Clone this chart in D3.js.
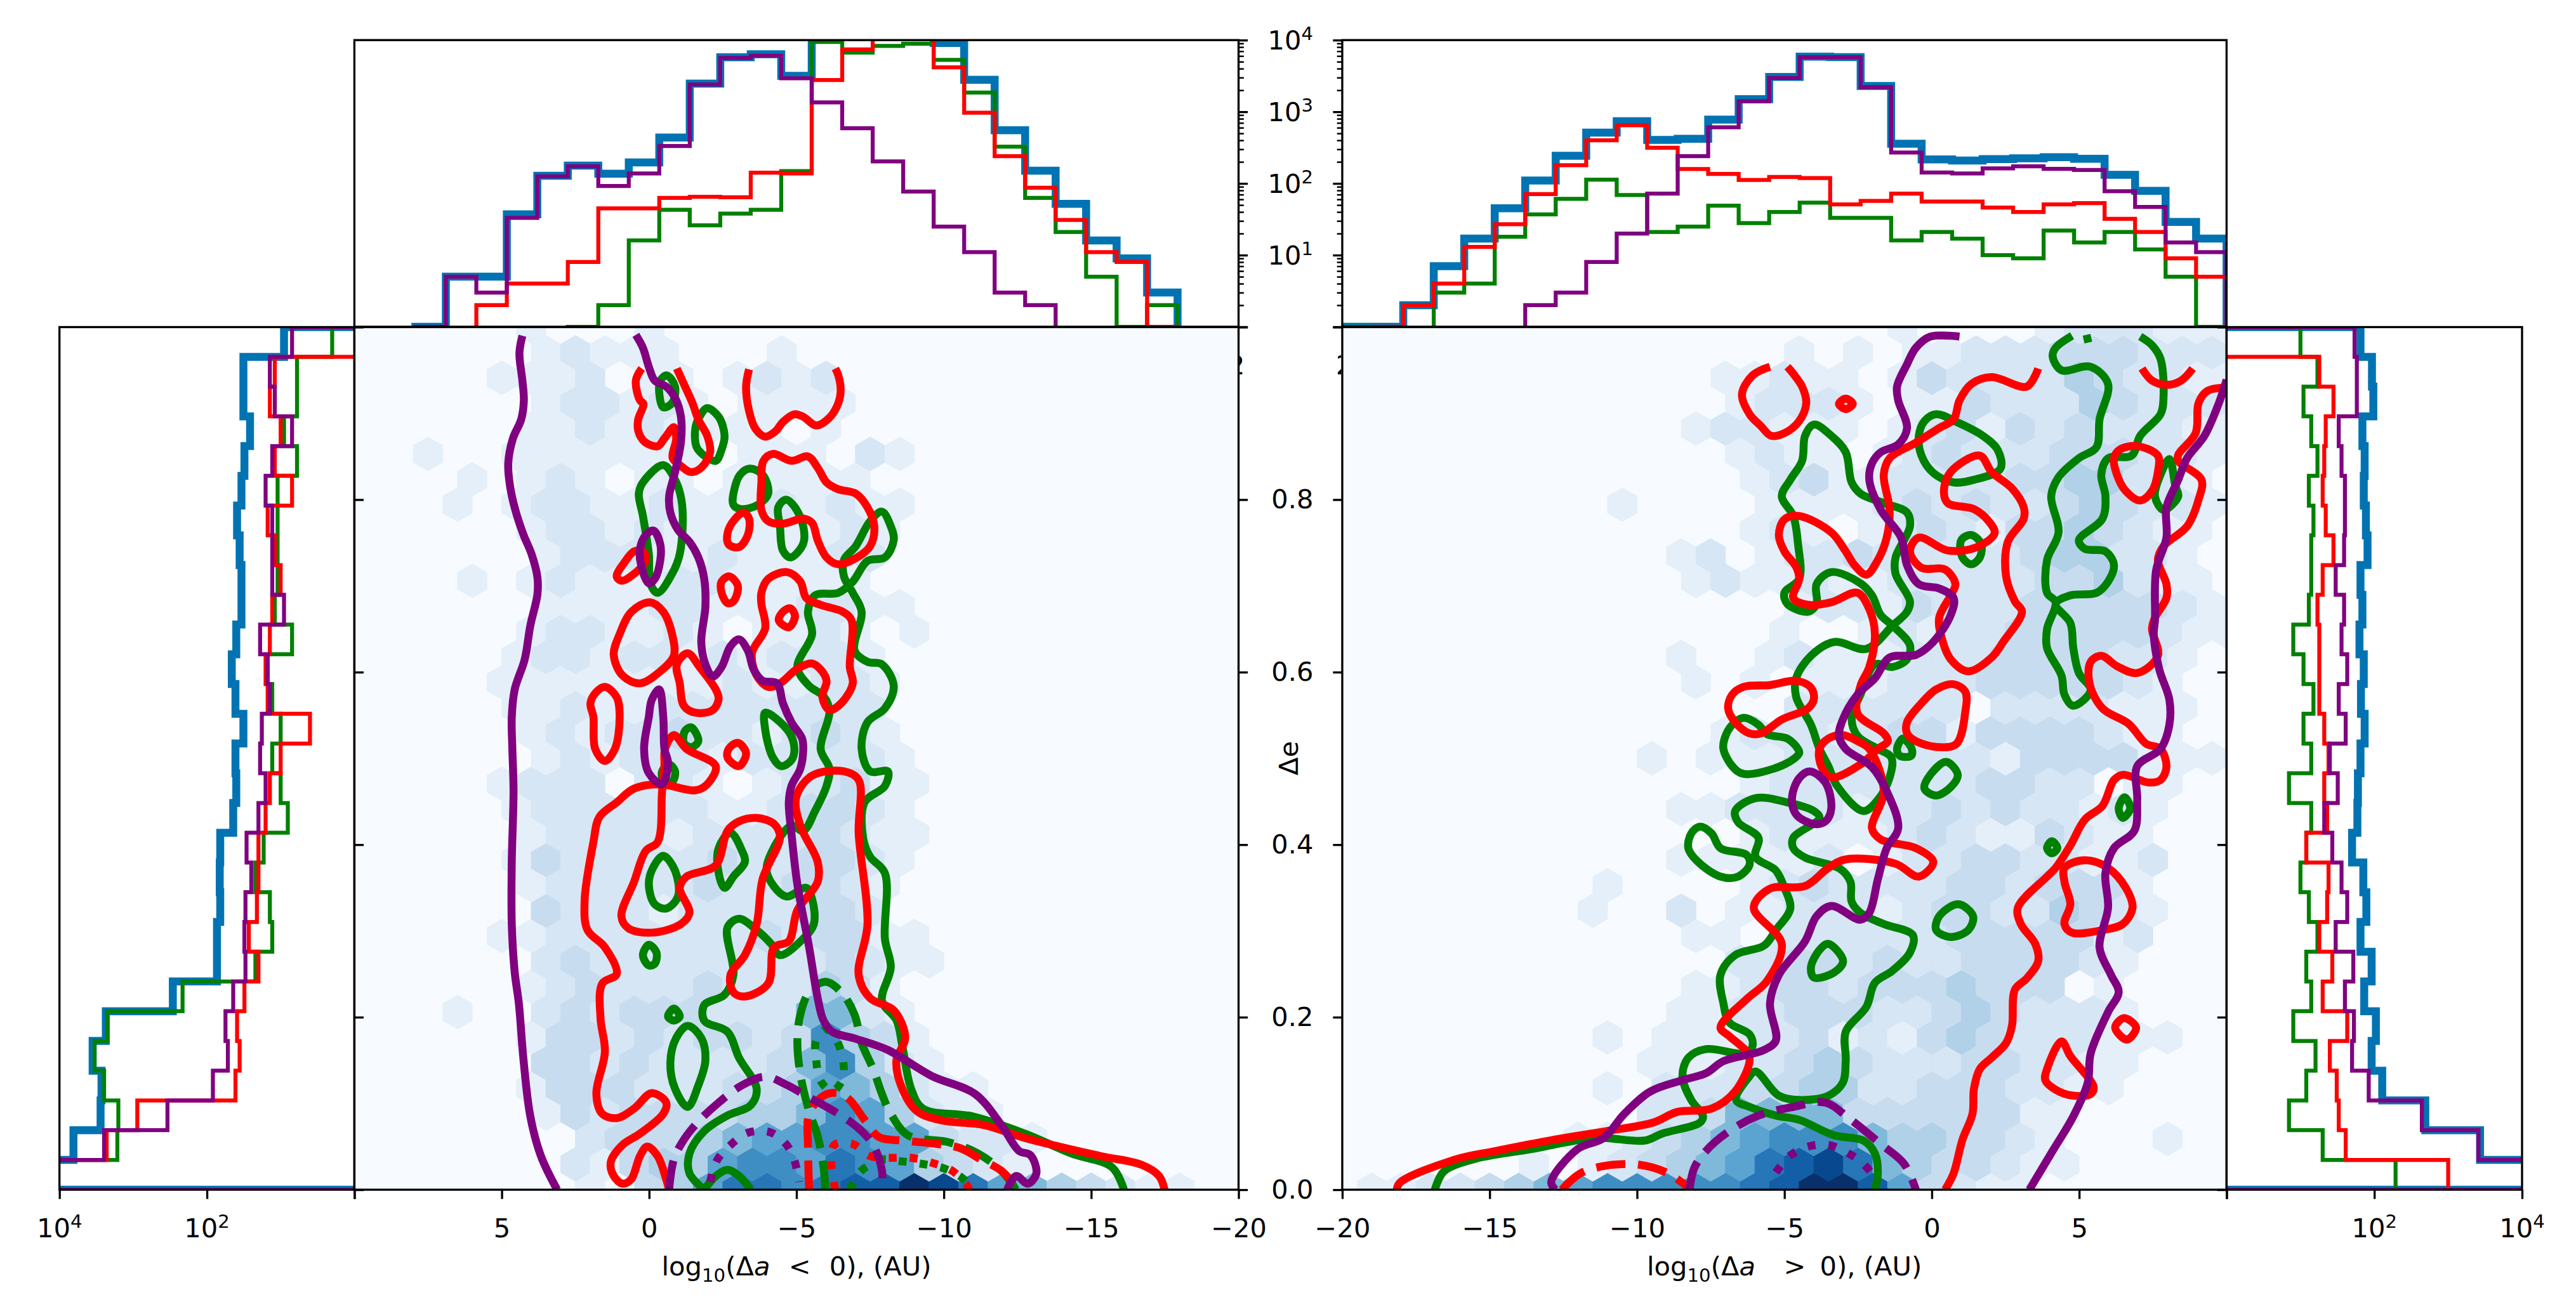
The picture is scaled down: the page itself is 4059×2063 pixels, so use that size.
<!DOCTYPE html>
<html>
<head>
<meta charset="utf-8">
<script src="https://cdnjs.cloudflare.com/ajax/libs/d3/7.8.5/d3.min.js"></script>
<style>
body { margin: 0; background: #fff; }
text { font-family: "DejaVu Sans"; font-size: 41.67px; fill: #000; white-space: pre; }
</style>
</head>
<body>
<svg id="fig" width="4059" height="2063"></svg>
<script>
// hexbin levels, one string per row from e=0 up to e=1, columns in drawing order (left to right)
var leftHexRows = [
"0000000010346887899ba8654321100","0000000213446776876432 1","000000002333456677663221","000000132333344576 42 11",
"0000001333222334654211","000000332322223574 21","0000001332323323 7431","00010023233322255 21",
"0000001232223222431","0000002322222222 3211","000001122222223 23311","0000003222122223 32",
"0000001222223223321","000001322222322 3321","0000001222212222 3211","000001222222112 3321",
"000001222022101 22311","0000001212221222221","0000001212232212321","00000112112222 2222",
"000001111111121 1221","000001221221212221","0000001221121011 2101","0000001111221112211",
"000010121112211111","0000001222112111 22","0000001221211111121","00010122112111212 11",
"000010121011011111","00100111111101 11021","000000112121111 01","00000012212101111",
"0000011120110121 2","00000012111 0001","00000010001"
];
var rightHexRows = [
"0112234567777789bb9632 11","00000010123456 89a85433211","000000001123456777544332 10001","0000000000223555533333311",
"00000000010222334422333 2211","0000000000111223432223322 11","00000000010111223121343222111","0000000000011223332234322 21",
"000000000000112332333433301","0000000000000223323223333 21","000000000000110222222333 3312","00000000100201122212332243 21",
"00000000010000123222233233 31","0000000000011111201223322112","000000000000001211123211 3211","00000000000112222122323 22121",
"00000000000000122222223322011","0000000000101112222222133 33111","00000000000001222123313333211","000000000000000222222 02222111",
"00000000000010101 1122233333 21","00000000000 1001211122233 33221","000000000000000100121223 3333211","00000000000000 0122132223 3333211",
"00000000000012112112222233 4211","000000000001201223222223 44221","00000000000000121012321 3343211","00000000010000111123232234 3221",
"000000000000001 2311222233 44221","00000000000001211012322233 3221","000000000000122111012 3132322211","00000000000001222101 1322243222",
"0000000000000112110132222432211","00000000000000010101122233322 2","00000000000000000001 000012221 11"
].map(function(s) { return s.replace(/ /g, ""); });
leftHexRows = leftHexRows.map(function(s) { return s.replace(/ /g, ""); });
// colour position of each hexbin level
var hexLevelNorm = [0, .09, .165, .24, .32, .45, .55, .64, .73, .82, .91, 1];

// histogram counts. top left runs from a=10 down to a=-20, top right from a=-20 up to a=10,
// side panels from e=0 up to e=1
var topLeftBlue = [0,0,1,5,5,37,128,177,137,196,437,2470,5750,6350,3170,15000,15000,15000,15000,9100,2800,553,151,52,16,9,3,0,0];
var topLeftGreen = [0,0,0,0,0,0,0,1,2,16,43,26,38,43,149,9400,6700,8300,8900,5300,1850,326,63,21,5,1,2,0,0];
var topLeftRed = [0,0,0,0,2,4,4,8,45,45,63,65,64,141,138,2770,7400,15000,15000,4170,970,240,87,31,11,8,1,0,0];
var topLeftPurple = [0,0,1,5,3,33,126,173,92,138,333,2400,5640,6050,2930,1350,590,203,77,25,11,3,2,0,0,0,0,0,0];
var topRightBlue = [1,1,2,7,17,45,110,243,513,740,405,420,777,1500,3070,5870,5800,2290,358,216,209,219,224,232,221,132,79,29,17];
var topRightGreen = [1,0,0,3,4,18,37,61,113,69,21,25,49,28,40,54,33,33,16,21,17,10,9,22,15,21,12,5,1];
var topRightRed = [0,1,2,4,13,27,71,180,400,650,315,159,136,112,123,119,51,57,72,56,56,46,40,51,53,32,21,9,5];
var topRightPurple = [0,0,0,0,0,0,2,3,8,20,72,240,608,1400,2960,5780,5780,2210,270,142,138,162,173,160,154,78,47,15,11];
var sideLeftBlue = [20000,6460,2770,2690,3550,2350,290,73,73,66,67,66,44,40,41,32,41,46,40,34,34,36,39,34,31,26,32,32,9];
var sideLeftGreen = [20000,1640,1590,2480,3340,2240,214,22,13,14,22,17,8,10,13,10,13,15,7,12,11,11,11,11,6,9,6,6,2];
var sideLeftRed = [20000,2290,880,41,36,39,31,20,27,21,20,20,16,14,10,4,15,16,14,13,10,12,15,7,12,10,14,12,0];
var sideLeftPurple = [20000,2480,343,83,52,56,44,30,31,30,25,29,20,16,19,18,14,15,19,9,13,13,13,16,13,7,12,14,7];
var sideRightBlue = [20000,2700,490,128,92,105,73,92,65,78,71,50,59,60,65,74,66,72,63,69,65,81,77,72,74,69,97,93,65];
var sideRightGreen = [194,20,7,12,16,8,14,12,17,13,10,12,14,7,14,11,15,11,8,13,14,14,15,13,17,14,11,17,10];
var sideRightRed = [1000,41,33,31,25,43,20,27,18,23,24,12,23,21,24,21,18,18,18,17,20,28,22,20,21,22,28,18,0];
var sideRightPurple = [20000,2570,440,84,50,53,40,52,30,43,36,27,21,32,25,41,33,43,36,39,30,39,40,40,36,33,58,58,54];

// contours as [a, e] pairs
var leftGreenLines = [
[[-1.87,0],[-1.37,.019],[-1.37,.042],[-1.87,.068],[-2.66,.086],[-3.45,.098],[-3.65,.117],[-3.05,.153],[-2.66,.183],[-1.87,.196],[-1.87,.214],[-2.56,.226],[-2.86,.249],[-2.66,.304],[-3.05,.314],[-3.65,.301],[-4.14,.285],[-4.44,.272],[-5.23,.291],[-5.59,.308],[-5.53,.337],[-5.33,.350],[-4.64,.340],[-4.00,.367],[-4.14,.390],[-4.83,.422],[-5.23,.416],[-5.63,.439],[-6.02,.468],[-6.12,.488],[-5.82,.511],[-6.12,.555],[-5.92,.572],[-5.43,.584],[-5.03,.606],[-5.53,.644],[-5.39,.670],[-5.63,.689],[-6.42,.692],[-6.91,.705],[-7.41,.729],[-8.00,.733],[-8.30,.753],[-8.20,.769],[-7.90,.786],[-7.50,.775],[-7.01,.746],[-6.61,.730],[-6.61,.711],[-6.91,.692],[-7.21,.670],[-6.97,.625],[-7.41,.612],[-7.90,.609],[-8.30,.584],[-8.00,.558],[-7.41,.542],[-7.21,.511],[-7.50,.485],[-8.10,.485],[-8.00,.468],[-7.31,.449],[-7.27,.406],[-7.50,.386],[-8.00,.367],[-8.00,.291],[-8.20,.258],[-7.90,.219],[-8.40,.196],[-8.59,.167],[-8.89,.117],[-9.29,.094],[-10.97,.085],[-12.75,.065],[-14.33,.042],[-15.71,.026],[-16.11,0]],
[[-1.87,0],[-2.27,.016],[-2.66,.023],[-3.05,.016],[-3.45,0]]
];
var leftGreenLoops = [
[[-.60,.944],[-.88,.931],[-.78,.912],[-.48,.907],[-.34,.925],[-.38,.938]],
[[-1.97,.906],[-2.36,.896],[-2.56,.874],[-2.46,.858],[-2.26,.845],[-1.87,.851],[-1.61,.861],[-1.57,.883],[-1.71,.896]],
[[-.48,.840],[-.88,.823],[-1.12,.794],[-1.04,.737],[-.78,.714],[-.29,.692],[-.05,.702],[.01,.737],[.21,.781],[.35,.807],[.21,.820]],
[[-3.41,.836],[-3.85,.829],[-4.04,.807],[-3.69,.794],[-3.15,.789],[-2.86,.794],[-2.90,.813],[-3.09,.829]],
[[-4.64,.800],[-4.93,.792],[-5.23,.769],[-5.23,.749],[-4.80,.733],[-4.54,.741],[-4.44,.769],[-4.38,.791]],
[[-.48,.387],[-.88,.370],[-.98,.340],[-.58,.326],[-.19,.331],[.01,.354],[-.13,.373]],
[[-2.76,.414],[-3.15,.393],[-3.25,.380],[-2.86,.363],[-2.56,.350],[-2.36,.367],[-2.36,.396]],
[[-3.94,.553],[-4.74,.531],[-4.93,.511],[-4.83,.498],[-4.48,.491],[-4.20,.501],[-3.94,.533]],
[[-1.43,.536],[-1.67,.520],[-1.43,.513],[-1.18,.518],[-1.22,.532]],
[[-.68,.493],[-.88,.485],[-.78,.473],[-.48,.475],[-.44,.485]],
[[.01,.284],[-.25,.275],[-.19,.262],[.01,.260],[.21,.272]],
[[-.84,.210],[-1.04,.201],[-.84,.196],[-.64,.201]],
[[-1.31,.190],[-1.77,.176],[-1.91,.150],[-1.67,.121],[-1.31,.096],[-.88,.117],[-.72,.147],[-.92,.176]]
];
var leftGreenDashed = [[-5.98,0],[-5.92,.026],[-5.72,.062],[-5.43,.091],[-5.13,.134],[-5.03,.173],[-5.13,.203],[-5.43,.229],[-5.98,.241],[-6.52,.229],[-6.97,.203],[-7.21,.170],[-7.60,.140],[-7.90,.111],[-8.20,.088],[-8.79,.063],[-10.17,.055],[-11.16,.042],[-11.95,.022],[-12.45,0]];
var leftGreenDottedLoop = [[-5.67,.173],[-5.67,.150],[-5.82,.126],[-6.22,.114],[-6.57,.129],[-6.57,.152],[-6.32,.176],[-6.02,.186]];
var leftGreenDotted = [[-6.81,0],[-7.17,.021],[-7.90,.035],[-8.53,.033],[-9.25,.030],[-9.98,.025],[-10.57,.015],[-11.06,0]];

var leftRedLines = [
[[.25,.952],[.45,.938],[.31,.915],[.19,.911],[.37,.893],[.37,.880],[.15,.867],[-.29,.862],[-.52,.871],[-.84,.884],[-.92,.871],[-.80,.848],[-1.08,.839],[-1.41,.832],[-1.77,.837],[-2.07,.855],[-1.97,.874],[-1.67,.893],[-1.47,.912],[-1.18,.934],[-.94,.952]],
[[-3.39,.951],[-3.29,.931],[-3.39,.903],[-3.61,.882],[-3.94,.873],[-4.28,.879],[-4.54,.890],[-4.93,.899],[-5.23,.896],[-5.67,.886],[-6.12,.895],[-6.42,.912],[-6.50,.928],[-6.42,.944],[-6.32,.952]],
[[-.68,0],[-.58,.012],[-.29,.039],[.07,.050],[.31,.039],[.61,.012],[.90,.007],[1.20,.016],[1.30,.032],[.90,.052],[.31,.065],[-.48,.088],[-.58,.101],[-.09,.112],[.51,.094],[1.10,.083],[1.59,.088],[1.79,.111],[1.50,.160],[1.65,.199],[1.59,.239],[1.10,.250],[1.50,.281],[2.09,.301],[2.19,.334],[1.89,.403],[1.69,.432],[1.10,.449],[.51,.465],[-.38,.470],[-1.57,.463],[-1.97,.470],[-2.26,.491],[-1.27,.511],[-.84,.527],[-.54,.511],[-.52,.491],[-.44,.462],[-.29,.403],[.11,.393],[.51,.357],[.94,.317],[.70,.303],[-.09,.298],[-1.08,.308],[-1.37,.321],[-1.04,.350],[-1.27,.363],[-2.26,.376],[-2.66,.416],[-3.05,.427],[-3.65,.431],[-4.24,.424],[-4.44,.409],[-3.85,.360],[-3.65,.308],[-3.25,.272],[-2.76,.249],[-2.86,.229],[-3.25,.224],[-4.04,.239],[-4.24,.281],[-4.74,.288],[-5.03,.324],[-5.72,.357],[-5.72,.380],[-5.13,.422],[-4.99,.455],[-5.53,.480],[-6.61,.485],[-7.11,.475],[-7.11,.413],[-7.41,.308],[-7.11,.249],[-7.50,.222],[-8.30,.208],[-8.69,.176],[-8.39,.150],[-8.59,.117],[-9.09,.091],[-9.98,.080],[-11.36,.075],[-12.75,.060],[-15.32,.039],[-16.70,.029],[-17.30,.016],[-17.49,0]]
];
var leftRedLoops = [
[[-4.20,.853],[-4.83,.845],[-5.39,.850],[-5.72,.837],[-6.02,.820],[-6.42,.812],[-7.01,.807],[-7.41,.791],[-7.64,.769],[-7.50,.746],[-7.01,.732],[-6.42,.725],[-6.02,.733],[-5.72,.753],[-5.53,.773],[-5.23,.778],[-4.54,.772],[-4.04,.775],[-3.81,.788],[-3.81,.820],[-3.88,.845]],
[[-3.21,.785],[-3.39,.778],[-3.35,.759],[-3.05,.745],[-2.70,.748],[-2.66,.761],[-2.90,.777]],
[[.51,.740],[.84,.727],[1.10,.711],[.94,.706],[.51,.714],[.11,.730],[.21,.740]],
[[-2.72,.711],[-3.01,.700],[-2.86,.682],[-2.66,.680],[-2.46,.692],[-2.46,.705]],
[[-4.68,.716],[-5.13,.705],[-5.33,.686],[-5.82,.678],[-6.57,.670],[-6.87,.660],[-6.81,.606],[-6.91,.587],[-6.52,.564],[-6.12,.556],[-5.88,.571],[-6.02,.590],[-5.82,.603],[-5.53,.610],[-5.03,.604],[-4.44,.587],[-4.04,.583],[-3.65,.596],[-3.49,.622],[-3.94,.651],[-3.81,.679],[-3.81,.692],[-4.04,.708]],
[[-4.79,.674],[-4.95,.665],[-4.74,.652],[-4.40,.660],[-4.54,.670]],
[[-.03,.681],[-.48,.670],[-.78,.644],[-.84,.619],[-.38,.601],[.31,.587],[.90,.596],[1.20,.620],[1.00,.644],[.60,.670]],
[[-1.31,.622],[-1.71,.606],[-2.26,.580],[-2.36,.569],[-2.16,.556],[-1.57,.553],[-1.18,.561],[-1.04,.587],[-.94,.609]],
[[1.50,.583],[1.10,.571],[1.00,.548],[1.16,.511],[1.50,.497],[1.83,.511],[1.89,.548],[1.99,.564],[1.79,.577]],
[[-3.01,.518],[-3.29,.506],[-3.05,.491],[-2.66,.501],[-2.70,.511]]
];
var leftRedDashed = [[-5.43,0],[-5.39,.052],[-5.43,.088],[-5.92,.109],[-6.42,.112],[-6.81,.104],[-7.31,.081],[-7.80,.061],[-8.59,.057],[-9.78,.053],[-10.57,.048],[-11.26,.035],[-11.95,.022],[-12.55,0]];
var leftRedDotted = [[-6.32,0],[-6.18,.029],[-6.28,.052],[-6.91,.053],[-7.50,.039],[-8.20,.037],[-8.89,.037],[-9.62,.031],[-10.28,.022],[-10.77,.006],[-10.87,0]];

var leftPurpleLines = [
[[4.30,.990],[4.40,.970],[4.30,.938],[4.25,.915],[4.34,.893],[4.62,.871],[4.78,.842],[4.72,.816],[4.54,.788],[4.26,.759],[3.99,.737],[3.79,.710],[3.79,.690],[4.03,.654],[4.22,.615],[4.56,.580],[4.66,.548],[4.64,.511],[4.60,.462],[4.66,.380],[4.66,.308],[4.56,.252],[4.42,.216],[4.26,.150],[4.03,.085],[3.67,.039],[3.12,0]],
[[.45,.991],[.21,.976],[.01,.954],[-.19,.938],[-.58,.931],[-.88,.918],[-1.08,.896],[-1.08,.867],[-.88,.832],[-.68,.804],[-.72,.785],[-.98,.765],[-1.37,.751],[-1.67,.733],[-1.87,.708],[-1.91,.676],[-1.77,.635],[-1.91,.609],[-2.16,.595],[-2.46,.606],[-2.76,.630],[-3.05,.638],[-3.35,.625],[-3.55,.603],[-3.85,.590],[-4.34,.587],[-4.54,.564],[-4.83,.542],[-5.19,.523],[-5.23,.511],[-5.13,.488],[-4.83,.468],[-4.74,.449],[-4.83,.413],[-5.03,.354],[-5.43,.281],[-5.72,.222],[-5.92,.196],[-6.22,.183],[-7.01,.175],[-8.10,.162],[-9.58,.132],[-11.06,.111],[-11.95,.075],[-12.55,.045],[-12.94,.040],[-13.14,.019],[-12.85,.007],[-12.45,.016],[-12.15,0]]
];
var leftPurpleLoops = [
[[-.15,.764],[-.38,.748],[-.38,.730],[-.19,.708],[.01,.703],[.27,.724],[.31,.743],[.11,.759]],
[[-.34,.580],[-.48,.548],[-.52,.511],[-.64,.495],[-.44,.470],[.01,.483],[.17,.511],[.01,.548],[-.09,.568]]
];
var leftPurpleDashed = [[-.68,0],[-.84,.035],[-1.18,.058],[-1.67,.079],[-2.36,.101],[-3.15,.121],[-3.94,.131],[-4.64,.122],[-5.43,.107],[-6.42,.088],[-7.11,.071],[-7.60,.052],[-7.90,.022],[-7.90,0]];
var leftPurpleDotted = [[-2.07,.009],[-2.32,.035],[-2.80,.053],[-3.35,.066],[-4.08,.067],[-4.64,.053],[-4.93,.034],[-5.09,.009]];

var rightGreenLines = [
[[4.76,.990],[4.20,.976],[4.10,.966],[4.40,.950],[5.39,.954],[5.98,.934],[5.69,.893],[5.59,.861],[4.99,.848],[4.30,.826],[4.05,.804],[4.30,.762],[3.91,.730],[3.91,.692],[4.20,.681],[3.91,.650],[3.91,.628],[4.40,.596],[4.50,.574],[4.80,.561],[5.39,.579],[4.99,.599],[4.80,.628],[4.70,.657],[4.20,.679],[4.70,.689],[5.59,.692],[5.98,.705],[6.18,.724],[5.89,.740],[5.19,.743],[4.99,.753],[5.79,.778],[5.89,.804],[5.75,.829],[5.98,.848],[6.78,.851],[7.07,.874],[7.76,.899],[7.86,.918],[7.76,.963],[7.47,.979],[7.07,.989]],
[[5.25,.991],[5.31,.982]],
[[-16.86,0],[-16.56,.021],[-15.58,.035],[-13.60,.047],[-11.42,.060],[-9.74,.057],[-9.15,.065],[-7.86,.078],[-7.76,.085],[-8.16,.104],[-8.46,.131],[-8.26,.153],[-7.66,.163],[-6.28,.158],[-6.08,.167],[-6.18,.180],[-6.87,.194],[-7.07,.216],[-7.17,.249],[-6.67,.272],[-5.69,.283],[-5.29,.301],[-4.80,.326],[-5.00,.350],[-5.29,.370],[-5.98,.386],[-5.88,.408],[-6.57,.426],[-6.67,.439],[-5.98,.454],[-4.90,.449],[-4.00,.439],[-3.81,.431],[-4.70,.408],[-4.70,.396],[-4.30,.385],[-3.11,.372],[-2.76,.357],[-2.72,.334],[-2.42,.321],[-1.63,.308],[-.64,.295],[-.74,.275],[-1.33,.254],[-1.93,.240],[-2.22,.212],[-2.92,.183],[-2.92,.150],[-3.02,.124],[-3.51,.109],[-4.50,.104],[-5.19,.109],[-5.98,.137],[-6.24,.129],[-6.64,.104],[-6.18,.096],[-5.29,.086],[-4.50,.081],[-3.31,.063],[-2.32,.057],[-1.93,.042],[-1.83,.019],[-1.93,0]]
];
var rightGreenLoops = [
[[-4.00,.887],[-3.41,.874],[-2.92,.855],[-2.72,.820],[-2.42,.807],[-1.63,.796],[-.84,.785],[-.74,.769],[-1.23,.733],[-1.23,.714],[-.74,.682],[-.84,.670],[-1.33,.654],[-2.22,.627],[-3.31,.635],[-4.10,.619],[-4.60,.593],[-4.60,.571],[-4.10,.539],[-3.81,.511],[-3.51,.491],[-3.21,.468],[-2.32,.439],[-1.83,.452],[-1.43,.478],[-1.37,.501],[-1.83,.511],[-2.52,.526],[-2.72,.548],[-2.42,.574],[-1.93,.609],[-1.33,.606],[-.84,.615],[-.74,.631],[-1.33,.654],[-1.73,.666],[-2.03,.689],[-2.42,.703],[-3.41,.716],[-3.91,.702],[-3.91,.679],[-4.20,.670],[-4.90,.679],[-5.00,.692],[-4.50,.708],[-4.54,.749],[-4.70,.781],[-5.09,.804],[-4.80,.823],[-4.40,.845],[-4.30,.874]],
[[-6.38,.547],[-5.88,.539],[-5.59,.528],[-4.90,.523],[-4.54,.511],[-4.50,.506],[-5.00,.493],[-6.38,.482],[-6.77,.491],[-7.07,.511],[-7.03,.523],[-6.77,.539]],
[[.15,.899],[.84,.890],[1.73,.874],[2.23,.858],[2.33,.836],[1.43,.823],[.74,.820],[.05,.831],[-.35,.851],[-.44,.874],[-.25,.891]],
[[1.34,.759],[1.67,.749],[1.63,.733],[1.34,.725],[1.04,.733],[1.00,.753]],
[[8.06,.847],[8.26,.816],[8.36,.804],[7.86,.788],[7.57,.804],[7.76,.829]],
[[.49,.496],[.88,.481],[.65,.467],[.15,.457],[-.25,.465],[-.05,.481]],
[[6.54,.455],[6.73,.442],[6.48,.431],[6.34,.442]],
[[4.07,.404],[4.26,.396],[4.07,.390],[3.91,.396]],
[[-7.86,.421],[-7.47,.413],[-7.17,.396],[-6.28,.388],[-6.18,.377],[-6.57,.363],[-7.17,.363],[-7.96,.381],[-8.26,.396],[-8.16,.413]],
[[.90,.331],[1.40,.317],[1.24,.301],[.64,.293],[.15,.301],[.25,.317]],
[[-3.51,.285],[-3.01,.265],[-3.31,.252],[-4.00,.246],[-4.10,.258],[-3.81,.278]],
[[-.98,.523],[-.68,.511],[-.70,.503],[-1.09,.503],[-1.18,.511]]
];

var rightRedLines = [
[[-5.49,.954],[-6.08,.944],[-6.44,.922],[-6.18,.899],[-5.79,.885],[-5.45,.874],[-5.00,.877],[-4.50,.891],[-4.26,.912],[-4.40,.931],[-4.70,.946],[-4.90,.954]],
[[3.61,.952],[3.22,.931],[2.03,.942],[1.34,.934],[.94,.915],[.74,.893],[.25,.883],[-.54,.866],[-1.43,.848],[-1.63,.829],[-1.43,.788],[-1.53,.756],[-1.83,.730],[-2.22,.713],[-2.62,.724],[-2.92,.740],[-3.41,.762],[-4.50,.781],[-5.00,.777],[-5.19,.759],[-5.00,.740],[-4.60,.722],[-4.50,.708],[-4.70,.686],[-4.20,.678],[-3.41,.681],[-2.52,.692],[-2.12,.673],[-1.93,.644],[-2.12,.606],[-2.42,.584],[-2.52,.552],[-1.63,.529],[-1.49,.520],[-1.83,.511],[-2.42,.493],[-3.41,.478],[-3.75,.491],[-3.81,.511],[-3.51,.523],[-3.02,.527],[-2.52,.520],[-2.12,.511],[-1.63,.462],[-2.03,.419],[-1.73,.406],[-.54,.396],[.05,.380],[-.44,.363],[-1.24,.378],[-2.92,.383],[-3.51,.373],[-4.30,.352],[-5.49,.349],[-6.04,.327],[-5.09,.285],[-5.59,.242],[-6.28,.221],[-7.17,.188],[-6.87,.178],[-6.28,.160],[-6.18,.150],[-6.67,.114],[-7.47,.094],[-8.65,.090],[-9.44,.078],[-11.03,.068],[-12.81,.058],[-14.78,.045],[-16.17,.035],[-18.05,.008],[-18.15,0]],
[[7.13,.952],[7.47,.938],[7.96,.933],[8.46,.938],[8.85,.952]],
[[10,.930],[9.35,.926],[9.05,.912],[8.95,.877],[8.36,.852],[8.36,.845],[9.15,.823],[9.05,.800],[8.66,.769],[7.86,.746],[7.67,.730],[7.96,.702],[7.96,.686],[7.57,.663],[7.47,.650],[7.67,.619],[6.97,.599],[6.28,.607],[5.75,.619],[5.39,.612],[5.35,.587],[5.79,.558],[6.68,.540],[7.27,.517],[7.76,.511],[7.96,.490],[7.76,.475],[7.37,.472],[6.48,.481],[6.18,.475],[5.79,.445],[5.19,.429],[4.70,.399],[4.20,.373],[3.91,.363],[2.92,.327],[3.02,.308],[3.51,.285],[3.61,.265],[3.22,.245],[2.82,.232],[2.72,.190],[2.52,.170],[2.03,.153],[1.63,.140],[1.43,.117],[1.38,.088],[1.04,.058],[.74,.019],[.45,0]]
];
var rightRedLoops = [
[[-2.92,.917],[-2.68,.911],[-2.92,.905],[-3.15,.911]],
[[1.63,.851],[2.03,.832],[2.72,.813],[3.12,.791],[3.12,.778],[2.58,.751],[2.52,.711],[2.82,.682],[3.06,.670],[2.42,.635],[2.03,.617],[1.24,.601],[.64,.615],[.35,.638],[.25,.663],[.64,.689],[.80,.702],[.45,.719],[-.35,.721],[-.74,.740],[-.44,.756],[.54,.741],[1.53,.745],[2.13,.761],[1.93,.775],[1.43,.789],[.54,.796],[.41,.810],[.64,.832]],
[[6.97,.862],[7.67,.851],[7.67,.832],[7.47,.810],[7.07,.799],[6.58,.810],[6.28,.829],[6.18,.848],[6.38,.858]],
[[-4.60,.590],[-4.10,.582],[-4.00,.569],[-4.20,.558],[-5.09,.545],[-5.79,.529],[-6.18,.529],[-6.67,.542],[-6.91,.558],[-6.77,.574],[-6.38,.583],[-5.49,.585]],
[[.74,.586],[1.14,.577],[1.14,.555],[.84,.517],[.25,.513],[-.54,.520],[-.84,.529],[-.84,.542],[-.35,.564],[.15,.580]],
[[5.19,.382],[5.98,.373],[6.58,.350],[6.81,.327],[6.48,.308],[5.79,.301],[4.76,.298],[4.50,.308],[4.70,.331],[4.50,.357],[4.50,.373]],
[[6.52,.199],[6.93,.188],[6.62,.174],[6.22,.188]],
[[4.40,.172],[4.70,.155],[5.49,.119],[5.39,.111],[4.80,.109],[4.20,.116],[3.85,.127],[3.91,.140]]
];
var rightRedDashed = [[-12.55,0],[-11.92,.019],[-11.03,.028],[-9.94,.029],[-8.95,.019],[-8.16,0]];

var rightPurpleLines = [
[[.94,.989],[.54,.990],[-.05,.989],[-.54,.976],[-.84,.957],[-1.18,.931],[-1.14,.915],[-.84,.883],[-1.14,.864],[-1.73,.855],[-2.03,.842],[-2.12,.823],[-1.73,.788],[-1.04,.756],[-.84,.724],[-.44,.702],[.25,.697],[.74,.686],[.64,.666],[.05,.635],[-.54,.620],[-1.43,.617],[-1.93,.593],[-2.52,.574],[-3.02,.545],[-3.15,.526],[-2.92,.511],[-2.03,.490],[-1.53,.462],[-1.14,.419],[-1.53,.396],[-1.83,.360],[-2.12,.321],[-2.42,.313],[-3.41,.329],[-3.91,.317],[-4.30,.288],[-5.19,.249],[-5.49,.216],[-5.29,.173],[-5.69,.162],[-7.07,.149],[-7.66,.135],[-8.46,.127],[-9.54,.114],[-10.43,.088],[-11.13,.060],[-12.02,.047],[-12.91,.009],[-12.77,0]],
[[10,.939],[9.74,.912],[9.25,.874],[8.66,.848],[8.36,.823],[7.96,.791],[7.96,.756],[7.61,.718],[7.57,.660],[7.53,.644],[7.72,.603],[8.06,.568],[8.06,.539],[7.76,.511],[6.97,.491],[6.97,.452],[6.87,.416],[6.18,.396],[5.89,.367],[5.98,.327],[5.69,.281],[6.08,.249],[6.34,.229],[5.98,.206],[5.39,.158],[5.29,.124],[4.80,.085],[4.10,.045],[3.31,0]]
];
var rightPurpleLoops = [
[[-4.14,.485],[-3.61,.472],[-3.41,.442],[-3.61,.427],[-4.00,.424],[-4.60,.435],[-4.74,.455],[-4.50,.477]]
];
var rightPurpleDashed = [[-8.22,0],[-8.06,.025],[-7.66,.045],[-6.87,.068],[-5.88,.086],[-4.70,.096],[-3.61,.101],[-2.82,.083],[-1.73,.053],[-.94,.030],[-.54,0]];
var rightPurpleDotted = [[-5.29,.020],[-4.83,.039],[-4.20,.050],[-3.51,.052],[-2.82,.042],[-2.29,.029],[-1.83,.009]];

var logTicks = [1, 10, 100, 1000, 10000];
var logMinor = d3.merge([1, 10, 100, 1000].map(function(d) { return [2,3,4,5,6,7,8,9].map(function(m) { return m * d; }); }));
var eTicks = [0, .2, .4, .6, .8, 1];
var aTicks = [10, 5, 0, -5, -10, -15, -20];

var BLUE = "#0173b2", GREEN = "#008000", RED = "#ff0000", PURPLE = "#800080";
var MAJOR = 14.6, MINOR = 8.3, PAD = 31;

var svg = d3.select("#fig");
var defs = svg.append("defs");

var mainTop = 515.5, mainBottom = 1875;
var yE = d3.scaleLinear().domain([0, 1]).range([mainBottom, mainTop]);
var xLeft = d3.scaleLinear().domain([10, -20]).range([558.4, 1951.6]);
var xRight = d3.scaleLinear().domain([-20, 10]).range([2115, 3508.4]);
var yTop = d3.scaleLog().domain([1, 10000]).range([515, 63.2]);
var xSideLeft = d3.scaleLog().domain([10000, 1]).range([93.7, 558.4]);
var xSideRight = d3.scaleLog().domain([1, 10000]).range([3508.4, 3974]);

var aEdges = d3.range(30).map(function(i) { return -20 + 30 * i / 29; });
var eEdges = d3.range(30).map(function(i) { return i / 29; });

// matplotlib Blues
var blues = d3.scaleLinear()
  .domain([0, .125, .25, .375, .5, .625, .75, .875, 1])
  .range(["#f7fbff","#deebf7","#c6dbef","#9ecae1","#6baed6","#4292c6","#2171b5","#08519c","#08306b"])
  .clamp(true);

var clipId = 0;
function panel(x0, x1, y0, y1, bg) {
  var id = "clip" + (clipId++);
  defs.append("clipPath").attr("id", id).append("rect")
    .attr("x", x0).attr("y", y0).attr("width", x1 - x0).attr("height", y1 - y0);
  if (bg) svg.append("rect").attr("x", x0).attr("y", y0).attr("width", x1 - x0).attr("height", y1 - y0).style("fill", bg);
  return svg.append("g").attr("clip-path", "url(#" + id + ")");
}

/** rows run from e=0 to e=1, odd rows sit half a bin over. a(k,odd) gives the bin centre */
function hexes(g, rows, x, a) {
  var sy = 1 / 17;
  var line = d3.line().x(function(d) { return x(d[0]); }).y(function(d) { return yE(d[1]); });
  rows.forEach(function(row, j) {
    var odd = j % 2 === 1, e = j / 34;
    row.split("").forEach(function(c, k) {
      var level = parseInt(c, 16);
      if (!level) return;
      var ca = a(k, odd);
      var pts = [[ca+.5,e-sy/6],[ca+.5,e+sy/6],[ca,e+sy/3],[ca-.5,e+sy/6],[ca-.5,e-sy/6],[ca,e-sy/3],[ca+.5,e-sy/6]];
      var col = blues(hexLevelNorm[level]);
      g.append("path").attr("d", line(pts)).style("fill", col).style("stroke", col).style("stroke-width", 1);
    });
  });
}

function contour(g, x, pts, color, closed, dash) {
  var line = d3.line().x(function(d) { return x(d[0]); }).y(function(d) { return yE(d[1]); })
    .curve(closed ? d3.curveCatmullRomClosed.alpha(.5) : d3.curveCatmullRom.alpha(.5));
  g.append("path").attr("d", line(pts))
    .style("fill", "none").style("stroke", color).style("stroke-width", 12.5)
    .style("stroke-dasharray", dash || null);
}

var DASHED = "46,20", DOTTED = "12.5,20.6";

function contourSet(g, x, lines, loops, color) {
  lines.forEach(function(p) { contour(g, x, p, color, false); });
  loops.forEach(function(p) { contour(g, x, p, color, true); });
}

/** step outline like hist(histtype='step'), empty bins drop out of the log axis */
function stepPath(g, edges, counts, color, width, sx, sy) {
  var pts = [[edges[0], .1]];
  counts.forEach(function(c, i) {
    var v = c > 0 ? c : .1;
    pts.push([edges[i], v]); pts.push([edges[i+1], v]);
  });
  pts.push([edges[counts.length], .1]);
  g.append("path")
    .attr("d", d3.line().x(function(d) { return sx(d); }).y(function(d) { return sy(d); })(pts))
    .style("fill", "none").style("stroke", color).style("stroke-width", width)
    .style("stroke-linejoin", "miter");
}

function histTop(g, edges, sets, x) {
  sets.forEach(function(s) {
    stepPath(g, edges, s[0], s[1], s[2], function(d) { return x(d[0]); }, function(d) { return yTop(d[1]); });
  });
}
function histSide(g, sets, x) {
  sets.forEach(function(s) {
    stepPath(g, eEdges, s[0], s[1], s[2], function(d) { return x(d[1]); }, function(d) { return yE(d[0]); });
  });
}

// ---- hexbins and contours
var gl = panel(558.4, 1951.6, mainTop, mainBottom, "#f7fbff");
hexes(gl, leftHexRows, xLeft, function(k, odd) { return odd ? 9.5 - k : 10 - k; });
contourSet(gl, xLeft, leftGreenLines, leftGreenLoops, GREEN);
contour(gl, xLeft, leftGreenDashed, GREEN, false, DASHED);
contour(gl, xLeft, leftGreenDottedLoop, GREEN, true, DOTTED);
contour(gl, xLeft, leftGreenDotted, GREEN, false, DOTTED);
contourSet(gl, xLeft, leftRedLines, leftRedLoops, RED);
contour(gl, xLeft, leftRedDashed, RED, false, DASHED);
contour(gl, xLeft, leftRedDotted, RED, false, DOTTED);
contourSet(gl, xLeft, leftPurpleLines, leftPurpleLoops, PURPLE);
contour(gl, xLeft, leftPurpleDashed, PURPLE, false, DASHED);
contour(gl, xLeft, leftPurpleDotted, PURPLE, false, DOTTED);

var gr = panel(2115, 3508.4, mainTop, mainBottom, "#f7fbff");
hexes(gr, rightHexRows, xRight, function(k, odd) { return odd ? -19.5 + k : -20 + k; });
contourSet(gr, xRight, rightGreenLines, rightGreenLoops, GREEN);
contourSet(gr, xRight, rightRedLines, rightRedLoops, RED);
contour(gr, xRight, rightRedDashed, RED, false, DASHED);
contourSet(gr, xRight, rightPurpleLines, rightPurpleLoops, PURPLE);
contour(gr, xRight, rightPurpleDashed, PURPLE, false, DASHED);
contour(gr, xRight, rightPurpleDotted, PURPLE, false, DOTTED);

// ---- histograms
histTop(panel(558.4, 1951.6, 63.2, 515), aEdges.slice().reverse(), [
  [topLeftBlue, BLUE, 12.5], [topLeftGreen, GREEN, 6.25], [topLeftRed, RED, 6.25], [topLeftPurple, PURPLE, 6.25]
], xLeft);
histTop(panel(2115, 3508.4, 63.2, 515), aEdges, [
  [topRightBlue, BLUE, 12.5], [topRightGreen, GREEN, 6.25], [topRightRed, RED, 6.25], [topRightPurple, PURPLE, 6.25]
], xRight);
histSide(panel(93.7, 558.4, mainTop, mainBottom), [
  [sideLeftBlue, BLUE, 12.5], [sideLeftGreen, GREEN, 6.25], [sideLeftRed, RED, 6.25], [sideLeftPurple, PURPLE, 6.25]
], xSideLeft);
histSide(panel(3508.4, 3974, mainTop, mainBottom), [
  [sideRightBlue, BLUE, 12.5], [sideRightGreen, GREEN, 6.25], [sideRightRed, RED, 6.25], [sideRightPurple, PURPLE, 6.25]
], xSideRight);

// ---- bits of a hidden tick label poking out either side of the gap
var hid = panel(1953.2, 1962, 540, 600);
hid.append("text").attr("x", 1961.5).attr("y", 590).style("text-anchor", "end").text("2");
var hid2 = panel(2105, 2113.4, 540, 600);
hid2.append("text").attr("x", 2105).attr("y", 590).text("2");

// ---- spines
[[558.4,1951.6,mainTop,mainBottom],[2115,3508.4,mainTop,mainBottom],[558.4,1951.6,63.2,515],[2115,3508.4,63.2,515],
 [93.7,558.4,mainTop,mainBottom],[3508.4,3974,mainTop,mainBottom]].forEach(function(b) {
  svg.append("rect").attr("x", b[0]).attr("y", b[2]).attr("width", b[1] - b[0]).attr("height", b[3] - b[2])
    .style("fill", "none").style("stroke", "#000").style("stroke-width", 3.33);
});

// ---- axes
function styled(sel, w) {
  sel.select(".domain").remove();
  sel.selectAll(".tick line").style("stroke", "#000").style("stroke-width", w);
  sel.selectAll("text").style("font-family", "DejaVu Sans").style("font-size", "41.67px");
}
function axisAt(axis, x, y, w) {
  return svg.append("g").attr("transform", "translate(" + x + "," + y + ")").call(axis).call(styled, w || 3.33);
}
var fmtSigned = function(d) { return d === 10 ? "" : (d < 0 ? "\u2212" + (-d) : "" + d); };
axisAt(d3.axisBottom(xLeft).tickValues(aTicks).tickSize(MAJOR).tickPadding(PAD).tickFormat(fmtSigned), 0, mainBottom);
axisAt(d3.axisBottom(xRight).tickValues(aTicks).tickSize(MAJOR).tickPadding(PAD).tickFormat(fmtSigned), 0, mainBottom);
axisAt(d3.axisRight(yE).tickValues(eTicks).tickSize(MAJOR).tickFormat(""), 1951.6, 0);
axisAt(d3.axisRight(yE).tickValues(eTicks).tickSize(MAJOR).tickFormat(""), 558.4, 0);
axisAt(d3.axisLeft(yE).tickValues(eTicks).tickSize(MAJOR).tickPadding(PAD).tickFormat(function(d) { return d === 1 ? "" : d.toFixed(1); }), 2115, 0);
axisAt(d3.axisLeft(yE).tickValues(eTicks).tickSize(MAJOR).tickFormat(""), 3508.4, 0);

axisAt(d3.axisRight(yTop).tickValues(logTicks).tickSize(MAJOR).tickFormat(""), 1951.6, 0);
axisAt(d3.axisRight(yTop).tickValues(logMinor).tickSize(MINOR).tickFormat(""), 1951.6, 0, 2.5);
axisAt(d3.axisLeft(yTop).tickValues(logTicks).tickSize(MAJOR).tickFormat(""), 2115, 0);
axisAt(d3.axisLeft(yTop).tickValues(logMinor).tickSize(MINOR).tickFormat(""), 2115, 0, 2.5);

var sideTicks = [1, 100, 10000];
axisAt(d3.axisBottom(xSideLeft).tickValues(sideTicks).tickSize(MAJOR).tickFormat(""), 0, mainBottom);
axisAt(d3.axisBottom(xSideRight).tickValues(sideTicks).tickSize(MAJOR).tickFormat(""), 0, mainBottom);

function powerLabel(x, y, exp, anchor) {
  var t = svg.append("text").attr("x", x).attr("y", y).style("text-anchor", anchor).text("10");
  t.append("tspan").attr("dy", -15).style("font-size", "29.2px").text(exp);
}
[1, 2, 3, 4].forEach(function(p) { powerLabel(2069, yTop(Math.pow(10, p)) + 15, p, "end"); });
powerLabel(xSideLeft(10000), 1950, 4, "middle");
powerLabel(xSideLeft(100), 1950, 2, "middle");
powerLabel(xSideRight(100), 1950, 2, "middle");
powerLabel(xSideRight(10000), 1950, 4, "middle");

function xLabel(cx, cmp, gap) {
  var t = svg.append("text").attr("x", cx).attr("y", 2010).style("text-anchor", "middle").text("log");
  t.append("tspan").attr("dy", 10).style("font-size", "29.2px").text("10");
  t.append("tspan").attr("dy", -10).text("(\u0394");
  t.append("tspan").style("font-style", "italic").text("a");
  t.append("tspan").style("word-spacing", gap + "px").text(cmp);
  t.append("tspan").text("), (AU)");
}
xLabel((xLeft(10) + xLeft(-20)) / 2, " < 0", 16);
xLabel((xRight(-20) + xRight(10)) / 2, "  > 0", 9);

svg.append("text").attr("transform", "translate(2045,1195) rotate(-90)").style("text-anchor", "middle").text("\u0394e");
</script>
</body>
</html>
